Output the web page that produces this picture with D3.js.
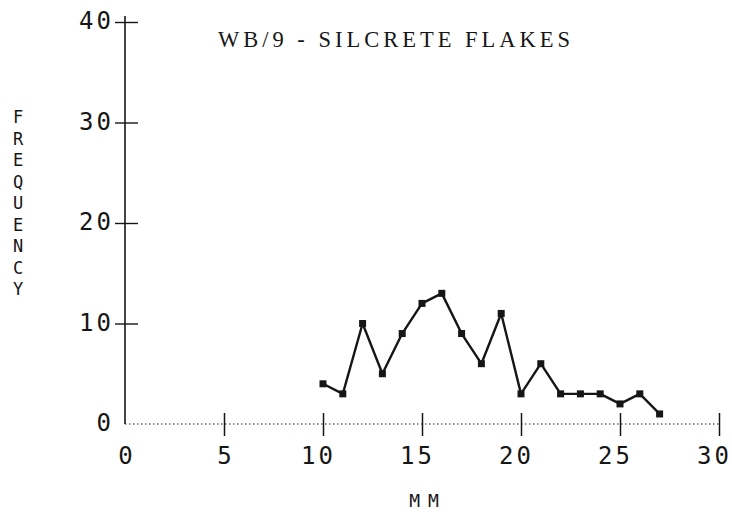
<!DOCTYPE html>
<html>
<head>
<meta charset="utf-8">
<script src="https://cdn.jsdelivr.net/npm/d3@7/dist/d3.min.js"></script>
<style>
  html, body { margin: 0; padding: 0; background: #fff; }
  svg { display: block; }
</style>
</head>
<body>
<svg id="chart" width="732" height="518"></svg>
<script>
// Flake length (mm) and number of flakes counted at each length
const lengths = [10, 11, 12, 13, 14, 15, 16, 17, 18, 19, 20, 21, 22, 23, 24, 25, 26, 27];
const counts  = [4, 3, 10, 5, 9, 12, 13, 9, 6, 11, 3, 6, 3, 3, 3, 2, 3, 1];

const xTicks = [0, 5, 10, 15, 20, 25, 30];
const yTicks = [0, 10, 20, 30, 40];

const titleText = "WB/9 - SILCRETE FLAKES";
const xLabel = "MM";
const yLabel = "FREQUENCY";

const ink = "#161616";
const svg = d3.select("#chart");

const x = d3.scaleLinear().domain([0, 30]).range([125, 719]);
const y = d3.scaleLinear().domain([0, 40]).range([424, 22]);

const numFont = "'DejaVu Sans Mono', monospace";

// y axis: solid vertical line with crossing ticks
svg.append("line")
  .attr("x1", x(0)).attr("x2", x(0))
  .attr("y1", y(40) - 6).attr("y2", y(0))
  .attr("stroke", ink).attr("stroke-width", 1.6);

const yAxis = d3.axisLeft(y).tickValues(yTicks).tickSize(0).tickFormat(d3.format("d"));
const gy = svg.append("g").attr("transform", `translate(${x(0)},0)`).call(yAxis);
gy.select(".domain").remove();
gy.selectAll(".tick line").remove();
gy.selectAll(".tick").filter(d => d !== 0)
  .append("line")
  .attr("x1", -10).attr("x2", 13)
  .attr("stroke", ink).attr("stroke-width", 1.4);
gy.selectAll(".tick text")
  .attr("x", -11).attr("dy", "0.32em").attr("y", -1)
  .attr("fill", ink)
  .style("font-family", numFont).style("font-size", "24px")
  .style("letter-spacing", "3px");

// x axis: dotted baseline with crossing ticks
svg.append("line")
  .attr("x1", x(0)).attr("x2", x(30))
  .attr("y1", y(0)).attr("y2", y(0))
  .attr("stroke", ink).attr("stroke-width", 1.2)
  .attr("stroke-dasharray", "1.4,2.6");

const xAxis = d3.axisBottom(x).tickValues(xTicks).tickSize(0).tickFormat(d3.format("d"));
const gx = svg.append("g").attr("transform", `translate(0,${y(0)})`).call(xAxis);
gx.select(".domain").remove();
gx.selectAll(".tick line").remove();
gx.selectAll(".tick").filter(d => d !== 0)
  .append("line")
  .attr("y1", -11).attr("y2", 12)
  .attr("stroke", ink).attr("stroke-width", 1.5);
gx.selectAll(".tick text")
  .attr("y", 40).attr("dy", 0)
  .attr("dx", d => String(d).length > 1 ? -5 : 1.5)
  .attr("fill", ink)
  .style("font-family", numFont).style("font-size", "24px")
  .style("letter-spacing", "3px");

// frequency polygon
const line = d3.line()
  .x((d, i) => x(lengths[i]))
  .y(d => y(d));

svg.append("path")
  .datum(counts)
  .attr("d", line)
  .attr("fill", "none")
  .attr("stroke", ink)
  .attr("stroke-width", 2.4)
  .attr("stroke-linejoin", "round");

const marks = svg.append("g").selectAll("g")
  .data(counts)
  .join("g")
  .attr("transform", (d, i) => `translate(${x(lengths[i])},${y(d)})`);
marks.append("rect")
  .attr("x", -3.5).attr("y", -3.5).attr("width", 7).attr("height", 7)
  .attr("fill", ink);

// title
svg.append("text")
  .attr("x", 218).attr("y", 47)
  .attr("textLength", 352).attr("lengthAdjust", "spacing")
  .attr("fill", ink)
  .style("font-family", "'Liberation Serif', serif")
  .style("font-size", "22.5px")
  .text(titleText);

// x-axis title
svg.append("text")
  .attr("x", 424).attr("y", 507)
  .attr("text-anchor", "middle")
  .attr("fill", ink)
  .style("font-family", numFont).style("font-size", "18px")
  .style("letter-spacing", "8px")
  .attr("dx", 4)
  .text(xLabel);

// y-axis title, letters stacked top to bottom
svg.append("g").selectAll("text")
  .data(yLabel.split(""))
  .join("text")
  .attr("x", 18)
  .attr("y", (d, i) => 123 + i * 21.5)
  .attr("text-anchor", "middle")
  .attr("fill", ink)
  .style("font-family", numFont).style("font-size", "17px")
  .text(d => d);
</script>
</body>
</html>
